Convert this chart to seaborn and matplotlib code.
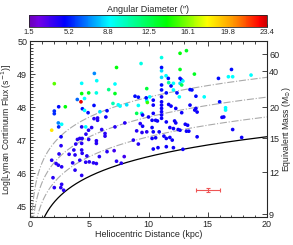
import numpy as np
import pandas as pd
import matplotlib
matplotlib.use("Agg")
import matplotlib.pyplot as plt
import seaborn as sns
from matplotlib.colors import LinearSegmentedColormap, Normalize
from matplotlib.ticker import MultipleLocator

# heliocentric distance (kpc), log Lyman continuum flux, angular diameter (arcsec)
dist = [2.05, 7.3, 9.37, 5.43, 5.63, 4.36, 7.17, 4.36, 4.95, 5.6,
        6.64, 7.17, 3.99, 4.6, 4.3, 2.42, 2.98, 2.05, 2.05, 4.42,
        4.9, 5.4, 5.9, 4.6, 6.5, 7.0, 7.45, 7.6, 8.16, 8.86,
        9.14, 9.14, 9.85, 9.9, 9.0, 9.42, 9.85, 2.39, 2.42, 2.67,
        1.83, 2.62, 4.36, 4.7, 5.2, 5.4, 5.7, 5.7, 6.05, 6.33,
        6.4, 8.0, 7.17, 9.3, 9.0, 9.45, 9.85, 9.14, 8.72, 4.2,
        4.4, 4.0, 4.72, 4.94, 4.95, 5.6, 5.6, 6.33, 2.62, 3.86,
        4.36, 4.36, 4.4, 4.8, 3.7, 3.8, 3.3, 2.45, 2.39, 1.83,
        2.2, 2.67, 3.6, 4.2, 4.7, 5.0, 5.35, 5.6, 5.85, 6.5,
        7.1, 7.95, 7.3, 7.7, 3.8, 4.36, 1.94, 2.05, 2.67, 2.6,
        2.84, 13.2, 12.66, 11.1, 11.1, 11.1, 12.66, 13.87, 11.48, 11.1,
        11.67, 12.66, 12.8, 15.9, 17.0, 16.74, 17.1, 18.65, 11.9, 12.1,
        11.7, 11.1, 12.66, 12.8, 12.9, 11.1, 11.5, 12.1, 12.4, 13.5,
        13.66, 14.0, 14.7, 16.0, 9.8, 10.1, 10.4, 10.4, 11.1, 11.1,
        11.1, 11.1, 11.1, 11.1, 11.1, 11.7, 11.9, 12.3, 12.6, 12.8,
        13.5, 13.9, 14.0, 14.1, 16.5, 16.5, 16.2, 16.35, 17.1, 17.86,
        9.5, 10.0, 10.4, 10.3, 10.6, 10.75, 11.5, 12.2, 12.3, 11.8,
        12.1, 12.5, 12.66, 13.1, 13.3, 13.2, 13.4, 9.5, 10.3, 10.4,
        10.3, 10.6, 10.9, 11.3, 11.5, 11.8, 12.0, 10.4, 10.8, 11.5,
        12.1, 12.9, 14.1]
logq = [48.71, 49.2, 49.32, 49.02, 48.8, 48.72, 48.7, 48.41, 48.43, 48.43,
        48.53, 48.41, 48.23, 48.26, 48.16, 48.01, 48.01, 47.88, 47.8, 47.95,
        47.83, 48.05, 47.86, 47.9, 47.89, 48.11, 48.07, 48.03, 48.07, 48.33,
        48.3, 48.05, 48.2, 48.14, 47.81, 47.81, 48.56, 47.52, 47.4, 47.48,
        47.3, 47.1, 47.4, 47.4, 47.38, 47.65, 47.67, 47.6, 47.32, 47.2,
        47.7, 47.52, 47.4, 47.5, 47.28, 47.23, 47.25, 46.88, 47.0, 47.05,
        47.05, 47.02, 47.18, 47.3, 47.02, 46.98, 46.9, 47.12, 46.83, 46.88,
        46.9, 46.7, 46.6, 46.52, 46.7, 46.55, 46.57, 46.58, 46.24, 46.39,
        46.29, 46.19, 46.31, 46.39, 46.33, 46.34, 46.31, 46.29, 46.5, 46.65,
        46.68, 46.5, 46.36, 46.3, 46.09, 45.93, 45.86, 45.56, 45.66, 45.56,
        45.48, 49.71, 49.63, 49.5, 49.2, 49.1, 49.14, 49.0, 48.95, 48.9,
        48.87, 48.87, 48.82, 48.87, 49.14, 48.92, 48.92, 48.97, 48.64, 48.72,
        48.74, 48.67, 48.72, 48.67, 48.79, 48.52, 48.43, 48.52, 48.43, 48.53,
        48.52, 48.33, 48.31, 48.16, 48.28, 48.31, 48.21, 48.06, 48.31, 48.16,
        48.06, 47.96, 47.86, 47.76, 47.66, 48.08, 48.03, 47.96, 48.31, 47.83,
        48.06, 47.91, 47.96, 47.85, 47.98, 47.91, 47.69, 47.7, 47.32, 47.08,
        47.76, 47.7, 47.81, 47.6, 47.6, 47.58, 47.55, 47.58, 47.52, 47.38,
        47.35, 47.32, 47.3, 47.48, 47.45, 47.27, 47.27, 47.42, 47.38, 47.25,
        47.05, 47.07, 47.25, 47.12, 47.05, 47.08, 47.0, 46.73, 46.77, 46.8,
        46.77, 46.72, 47.1]
angdiam = [15.5, 14, 9.5, 7, 9, 9, 9, 14, 13.5, 9.5,
           11.5, 13.5, 6.5, 9, 23, 5, 14, 5.5, 5.5, 5,
           5, 5, 8.5, 9, 5, 10.5, 9, 9, 8.5, 5,
           5, 9, 9, 15, 12.5, 9.5, 13, 7, 5.5, 9,
           18.5, 4.5, 4, 9, 4, 4, 4, 4, 4, 4,
           4.5, 4, 4, 4, 4, 4, 4, 4, 4, 4,
           4, 4, 4, 4, 4, 4, 4, 4, 4, 4,
           4, 4, 4, 4, 4, 4, 4, 4, 4, 4,
           4, 4, 4, 4, 4, 4, 4, 4, 4, 4,
           3.5, 3.5, 4, 4, 4, 4, 4, 4, 4, 4,
           4, 13.5, 14, 9.5, 5, 8.5, 13.5, 13.5, 9, 8.5,
           5, 5, 5, 5, 5, 9, 9, 9, 5, 9,
           11, 5, 8.5, 12.5, 9, 5, 5, 9, 5, 5,
           5, 5, 9, 5, 5, 9, 4.5, 4.5, 4.5, 4.5,
           4.5, 4.5, 4.5, 4.5, 4.5, 4.5, 4.5, 4.5, 9, 4.5,
           4.5, 4.5, 4.5, 4.5, 9, 9, 4.5, 4.5, 4.5, 4.5,
           4.5, 4.5, 4.5, 4.5, 4.5, 4.5, 4.5, 4.5, 4.5, 4.5,
           4.5, 4.5, 4.5, 4.5, 4.5, 4.5, 4.5, 4.5, 4.5, 4.5,
           4.5, 4.5, 4.5, 4.5, 4.5, 4.5, 4.5, 4.5, 4.5, 4.5,
           4.5, 4.5, 4.5]

# detection limit curves: logQ = offset + 2 log10(d)
limit_offset = 44.5
scaled_offsets = [45.1, 45.7, 46.3]

# right axis: equivalent mass ticks and their logQ positions
mass_ticks = [9, 12, 15, 20, 40, 60]
mass_logq = [44.76, 46.03, 47.06, 48.0, 49.09, 49.6]

cbar_ticks = [1.5, 5.2, 8.8, 12.5, 16.1, 19.8, 23.4]

# typical error bar
err_x, err_y, err_dx, err_dy = 15.0, 45.5, 1.0, 0.06

df = pd.DataFrame({"dist": dist, "logq": logq, "ang": angdiam})

sns.set_style("ticks")
plt.rcParams["font.family"] = ["Liberation Sans", "DejaVu Sans"]
plt.rcParams["xtick.direction"] = "in"
plt.rcParams["ytick.direction"] = "in"

cmap = LinearSegmentedColormap.from_list("idl_rainbow", [
    (0.0, (0.42, 0.0, 0.72)),
    (0.04, (0.45, 0.0, 0.9)),
    (0.15, (0.0, 0.0, 1.0)),
    (0.34, (0.0, 1.0, 1.0)),
    (0.58, (0.0, 1.0, 0.0)),
    (0.75, (1.0, 1.0, 0.0)),
    (0.87, (1.0, 0.55, 0.0)),
    (0.97, (1.0, 0.0, 0.0)),
    (1.0, (0.8, 0.0, 0.0))])
norm = Normalize(vmin=1.5, vmax=23.4)

fig = plt.figure(figsize=(2.93, 2.45), dpi=100)
ax = fig.add_axes([0.1024, 0.1143, 0.809, 0.718])

d = np.linspace(0.05, 20, 400)
ax.plot(d, limit_offset + 2 * np.log10(d), color="black", lw=0.9)
for off in scaled_offsets:
    ax.plot(d, off + 2 * np.log10(d), color="#aaaaaa", lw=0.8, ls="-.")

sns.scatterplot(data=df, x="dist", y="logq", hue="ang", palette=cmap, hue_norm=norm,
                s=7, linewidth=0, legend=False, ax=ax, zorder=3)

ax.errorbar(err_x, err_y, xerr=err_dx, yerr=err_dy, color="#ee5555", lw=0.8,
            capsize=1.5, capthick=0.8, zorder=4)

ax.set_xlim(0, 20)
ax.set_ylim(44.67, 50)
ax.xaxis.set_major_locator(MultipleLocator(5))
ax.xaxis.set_minor_locator(MultipleLocator(1))
ax.yaxis.set_major_locator(MultipleLocator(1))
ax.yaxis.set_minor_locator(MultipleLocator(0.1))
ax.tick_params(which="both", top=True, right=False, labelsize=6.5, width=0.6, pad=2)
ax.tick_params(which="major", length=3.5)
ax.tick_params(which="minor", length=1.8)
ax.set_xlabel("Heliocentric Distance (kpc)", fontsize=6.5, labelpad=1)
ax.set_ylabel("Log[Lyman Continuum Flux (s$^{-1}$)]", fontsize=6.2, labelpad=2)
for sp in ax.spines.values():
    sp.set_linewidth(0.6)

ax2 = ax.twinx()
ax2.set_ylim(ax.get_ylim())
ax2.set_yticks(mass_logq)
ax2.set_yticklabels([str(m) for m in mass_ticks])
ax2.tick_params(direction="in", length=3.5, width=0.6, labelsize=6.5, pad=1.5)
ax2.set_ylabel("Equivalent Mass (M$_{\\odot}$)", fontsize=6.2, labelpad=0.5)

cax = fig.add_axes([0.099, 0.890, 0.812, 0.049])
sm = plt.cm.ScalarMappable(norm=norm, cmap=cmap)
cb = fig.colorbar(sm, cax=cax, orientation="horizontal", ticks=cbar_ticks)
cb.ax.set_xticklabels([f"{t:.1f}" for t in cbar_ticks])
cb.ax.tick_params(labelsize=5.5, length=2, width=0.5, pad=1.5, direction="in")
cb.outline.set_linewidth(0.6)
cb.ax.set_title("Angular Diameter (\u2033)", fontsize=6.5, pad=2)

fig.savefig("out.png", dpi=100)
